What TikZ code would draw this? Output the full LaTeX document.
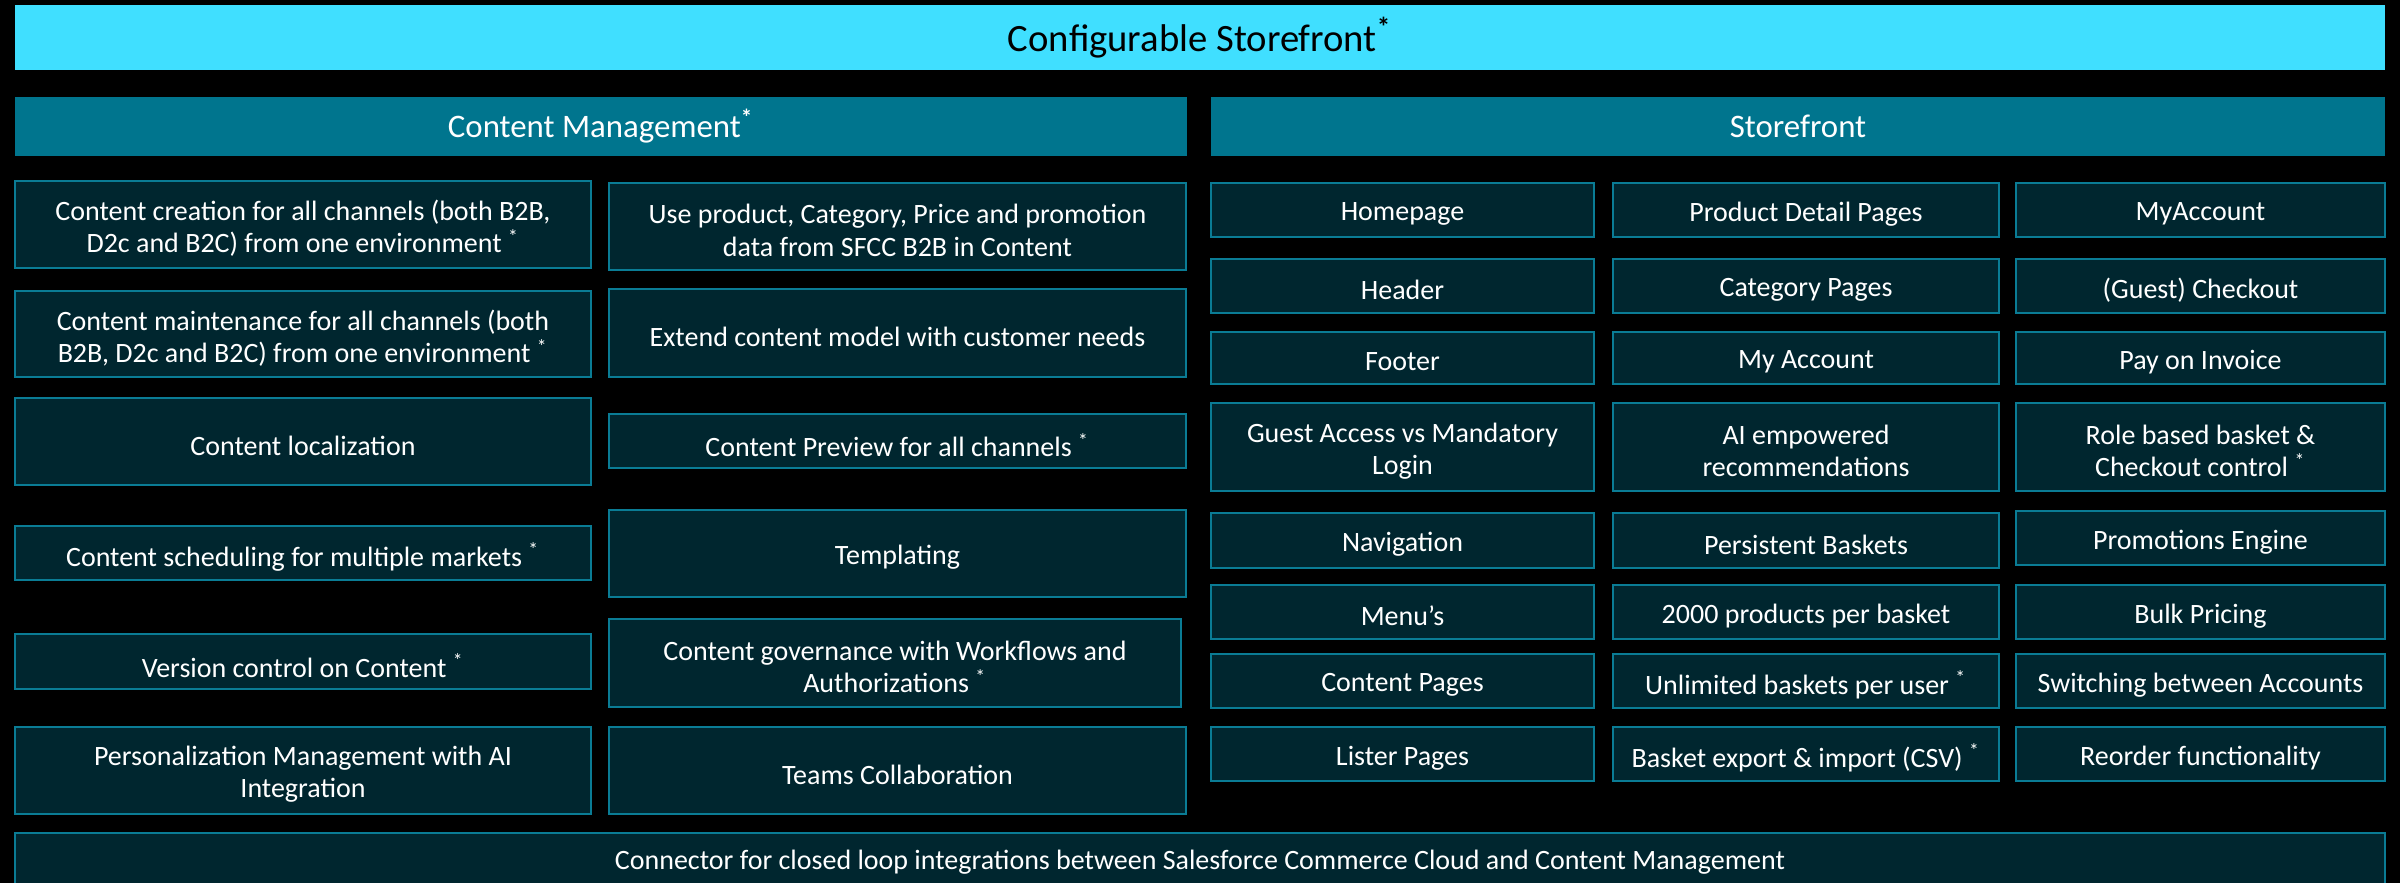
\documentclass[tikz,border=0pt]{standalone}
\usepackage{fontspec}
\setmainfont{Carlito}
\definecolor{bannerbg}{HTML}{40DFFF}
\definecolor{headbg}{HTML}{00758E}
\definecolor{cellbg}{HTML}{00262F}
\definecolor{cellline}{HTML}{0A7C95}
\tikzset{
  x=0.3pt, y=-0.3pt,
  panel/.style={inner sep=0pt, outer sep=0pt, align=center},
  banner/.style={panel, fill=bannerbg, text=black, font=\fontsize{11.6pt}{13pt}\selectfont},
  sectionhead/.style={panel, fill=headbg, text=white, font=\fontsize{9.85pt}{11.5pt}\selectfont},
  cell/.style={panel, draw=cellline, line width=0.75pt, fill=cellbg},
  celltext/.style={panel, text=white, font=\fontsize{8.4pt}{9.7pt}\selectfont},
}
% \placebox{style}{name}{x1}{y1}{x2}{y2}{text}: box given by its corners in px
\newcommand\placebox[7]{%
  \node[#1, minimum width={(#5-#3)*0.3pt}, minimum height={(#6-#4)*0.3pt}]
    (#2) at ({(#3+#5)/2},{(#4+#6)/2}) {#7};}
% \cellbox{name}{x1}{y1}{x2}{y2}{text}: framed cell, text set a little below centre
\newcommand\cellbox[6]{%
  \placebox{cell}{#1}{#2}{#3}{#4}{#5}{}
  \node[celltext] (#1-text) at ([yshift=-1.2pt]#1.center) {#6};}
\newcommand\st{\textsuperscript{*}}
\begin{document}
\begin{tikzpicture}
\fill[black] (0,0) rectangle (2400,883);
\useasboundingbox (0,0) rectangle (2400,883);

% title banner and section headers
\placebox{banner}{title}{15}{5}{2385}{70}{Configurable Storefront\textsuperscript{\textbf{*}}}
\placebox{sectionhead}{cmhead}{15}{97}{1187}{156}{Content Management\textsuperscript{\textbf{*}}}
\placebox{sectionhead}{sfhead}{1211}{97}{2385}{156}{Storefront}

% Content Management, first column
\cellbox{cm11}{15}{181}{591}{268}{Content creation for all channels (both B2B,\\ D2c and B2C) from one environment \st}
\cellbox{cm12}{15}{291}{591}{377}{Content maintenance for all channels (both\\ B2B, D2c and B2C) from one environment \st}
\cellbox{cm13}{15}{398}{591}{485}{Content localization}
\cellbox{cm14}{15}{526}{591}{580}{Content scheduling for multiple markets \st}
\cellbox{cm15}{15}{634}{591}{689}{Version control on Content \st}
\cellbox{cm16}{15}{727}{591}{814}{Personalization Management with AI\\ Integration}

% Content Management, second column
\cellbox{cm21}{609}{183}{1186}{270}{Use product, Category, Price and promotion\\ data from SFCC B2B in Content}
\cellbox{cm22}{609}{289}{1186}{377}{Extend content model with customer needs}
\cellbox{cm23}{609}{414}{1186}{468}{Content Preview for all channels \st}
\cellbox{cm24}{609}{510}{1186}{597}{Templating}
\cellbox{cm25}{609}{619}{1181}{707}{Content governance with Workflows and\\ Authorizations \st}
\cellbox{cm26}{609}{727}{1186}{814}{Teams Collaboration}

% Storefront, first column
\cellbox{sf11}{1211}{183}{1594}{237}{Homepage}
\cellbox{sf12}{1211}{259}{1594}{313}{Header}
\cellbox{sf13}{1211}{332}{1594}{384}{Footer}
\cellbox{sf14}{1211}{403}{1594}{491}{Guest Access vs Mandatory\\ Login}
\cellbox{sf15}{1211}{513}{1594}{568}{Navigation}
\cellbox{sf16}{1211}{585}{1594}{639}{Menu’s}
\cellbox{sf17}{1211}{654}{1594}{708}{Content Pages}
\cellbox{sf18}{1211}{727}{1594}{781}{Lister Pages}

% Storefront, second column
\cellbox{sf21}{1613}{183}{1999}{237}{Product Detail Pages}
\cellbox{sf22}{1613}{259}{1999}{313}{Category Pages}
\cellbox{sf23}{1613}{332}{1999}{384}{My Account}
\cellbox{sf24}{1613}{403}{1999}{491}{AI empowered\\ recommendations}
\cellbox{sf25}{1613}{513}{1999}{568}{Persistent Baskets}
\cellbox{sf26}{1613}{585}{1999}{639}{2000 products per basket}
\cellbox{sf27}{1613}{654}{1999}{708}{Unlimited baskets per user \st}
\cellbox{sf28}{1613}{727}{1999}{781}{Basket export \& import (CSV) \st}

% Storefront, third column
\cellbox{sf31}{2016}{183}{2385}{237}{MyAccount}
\cellbox{sf32}{2016}{259}{2385}{313}{(Guest) Checkout}
\cellbox{sf33}{2016}{332}{2385}{384}{Pay on Invoice}
\cellbox{sf34}{2016}{403}{2385}{491}{Role based basket \&\\ Checkout control \st}
\cellbox{sf35}{2016}{511}{2385}{565}{Promotions Engine}
\cellbox{sf36}{2016}{585}{2385}{639}{Bulk Pricing}
\cellbox{sf37}{2016}{654}{2385}{708}{Switching between Accounts}
\cellbox{sf38}{2016}{727}{2385}{781}{Reorder functionality}

% integration bar along the bottom edge
\node[cell, minimum width={2370*0.3pt}, minimum height={80*0.3pt}, anchor=north west]
  (connector) at (15,833) {};
\node[celltext] (connector-text) at (1200,862)
  {Connector for closed loop integrations between Salesforce Commerce Cloud and Content Management};
\end{tikzpicture}
\end{document}
